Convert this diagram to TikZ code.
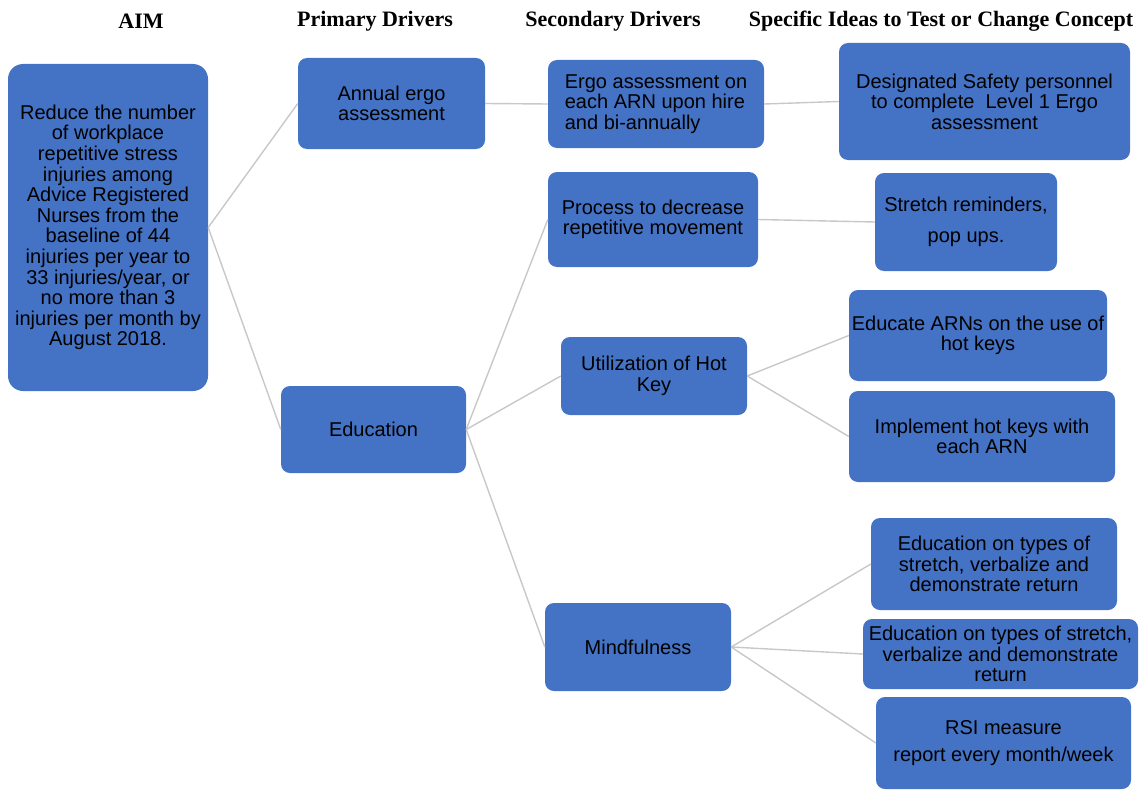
\documentclass[tikz,border=0pt]{standalone}
\usepackage{fontspec}
\setmainfont{Liberation Sans}
\newfontfamily\headfont{Liberation Serif}
\definecolor{boxblue}{HTML}{4472C4}
\definecolor{linkgray}{HTML}{C8C8C8}
\tikzset{
	driver/.style={rectangle, rounded corners=9pt, fill=boxblue, text=black,
		align=center, inner sep=2pt, font=\fontsize{20}{20.6}\selectfont},
	head/.style={font=\headfont\bfseries\fontsize{22}{24}\selectfont},
	link/.style={draw=linkgray, line width=1.4pt}
}
\begin{document}
\begin{tikzpicture}[x=1pt, y=-1pt]
				\useasboundingbox (0,0) rectangle (1147,789);
				% column titles
				\node[head] (haim) at (141,21) {AIM};
				\node[head] (hprim) at (375,21) {Primary Drivers};
				\node[head] (hsec) at (613,21) {Secondary Drivers};
				\node[head] (hidea) at (941,21) {Specific Ideas to Test or Change Concept};
				% aim and primary drivers
				\node[driver, rounded corners=15pt, minimum width=200pt, minimum height=327pt]
					(aim) at (108,227.5) {Reduce the number\\of workplace\\repetitive stress\\injuries among\\Advice Registered\\Nurses from the\\baseline of 44\\injuries per year to\\33 injuries/year, or\\no more than 3\\injuries per month by\\August 2018.};
				\node[driver, minimum width=187pt, minimum height=91pt] (annual) at (391.5,103.5) {Annual ergo\\assessment};
				\node[driver, minimum width=185pt, minimum height=87pt] (educ) at (373.5,429.5) {Education};
				% secondary drivers
				\node[driver, align=left, minimum width=216pt, minimum height=88pt] (ergo) at (656,104) {Ergo assessment on\\each ARN upon hire\\and bi-annually};
				\node[driver, minimum width=210pt, minimum height=95pt] (process) at (653,219.5) {Process to decrease\\repetitive movement};
				\node[driver, minimum width=186pt, minimum height=78pt] (hotkey) at (654,376) {Utilization of Hot\\Key};
				\node[driver, minimum width=186pt, minimum height=88pt] (mindful) at (638,647) {Mindfulness};
				% ideas to test
				\node[driver, minimum width=291pt, minimum height=117pt] (desig) at (984.5,101.5) {Designated Safety personnel\\to complete~ Level 1 Ergo\\assessment};
				\node[driver, minimum width=182pt, minimum height=98pt] (stretch) at (966,222) {Stretch reminders,\\[11pt]pop ups.};
				\node[driver, minimum width=258pt, minimum height=91pt] (educarn) at (978,335.5) {Educate ARNs on the use of\\hot keys};
				\node[driver, minimum width=266pt, minimum height=91pt] (implement) at (982,436.5) {Implement hot keys with\\each ARN};
				\node[driver, minimum width=246pt, minimum height=92pt] (eduone) at (994,564) {Education on types of\\stretch, verbalize and\\demonstrate return};
				\node[driver, minimum width=275pt, minimum height=70pt] (edutwo) at (1000.5,654) {Education on types of stretch,\\verbalize and demonstrate\\return};
				\node[driver, minimum width=255pt, minimum height=92pt] (rsi) at (1003.5,743) {RSI measure\\[7pt]report every month/week};
				% connectors
				\foreach \a/\b in {aim/annual, aim/educ, annual/ergo, ergo/desig,
					educ/process, educ/hotkey, educ/mindful, process/stretch,
					hotkey/educarn, hotkey/implement, mindful/eduone, mindful/edutwo, mindful/rsi}
					{
						\draw[link] (\a.east) -- (\b.west);
					}
			\end{tikzpicture}
\end{document}
